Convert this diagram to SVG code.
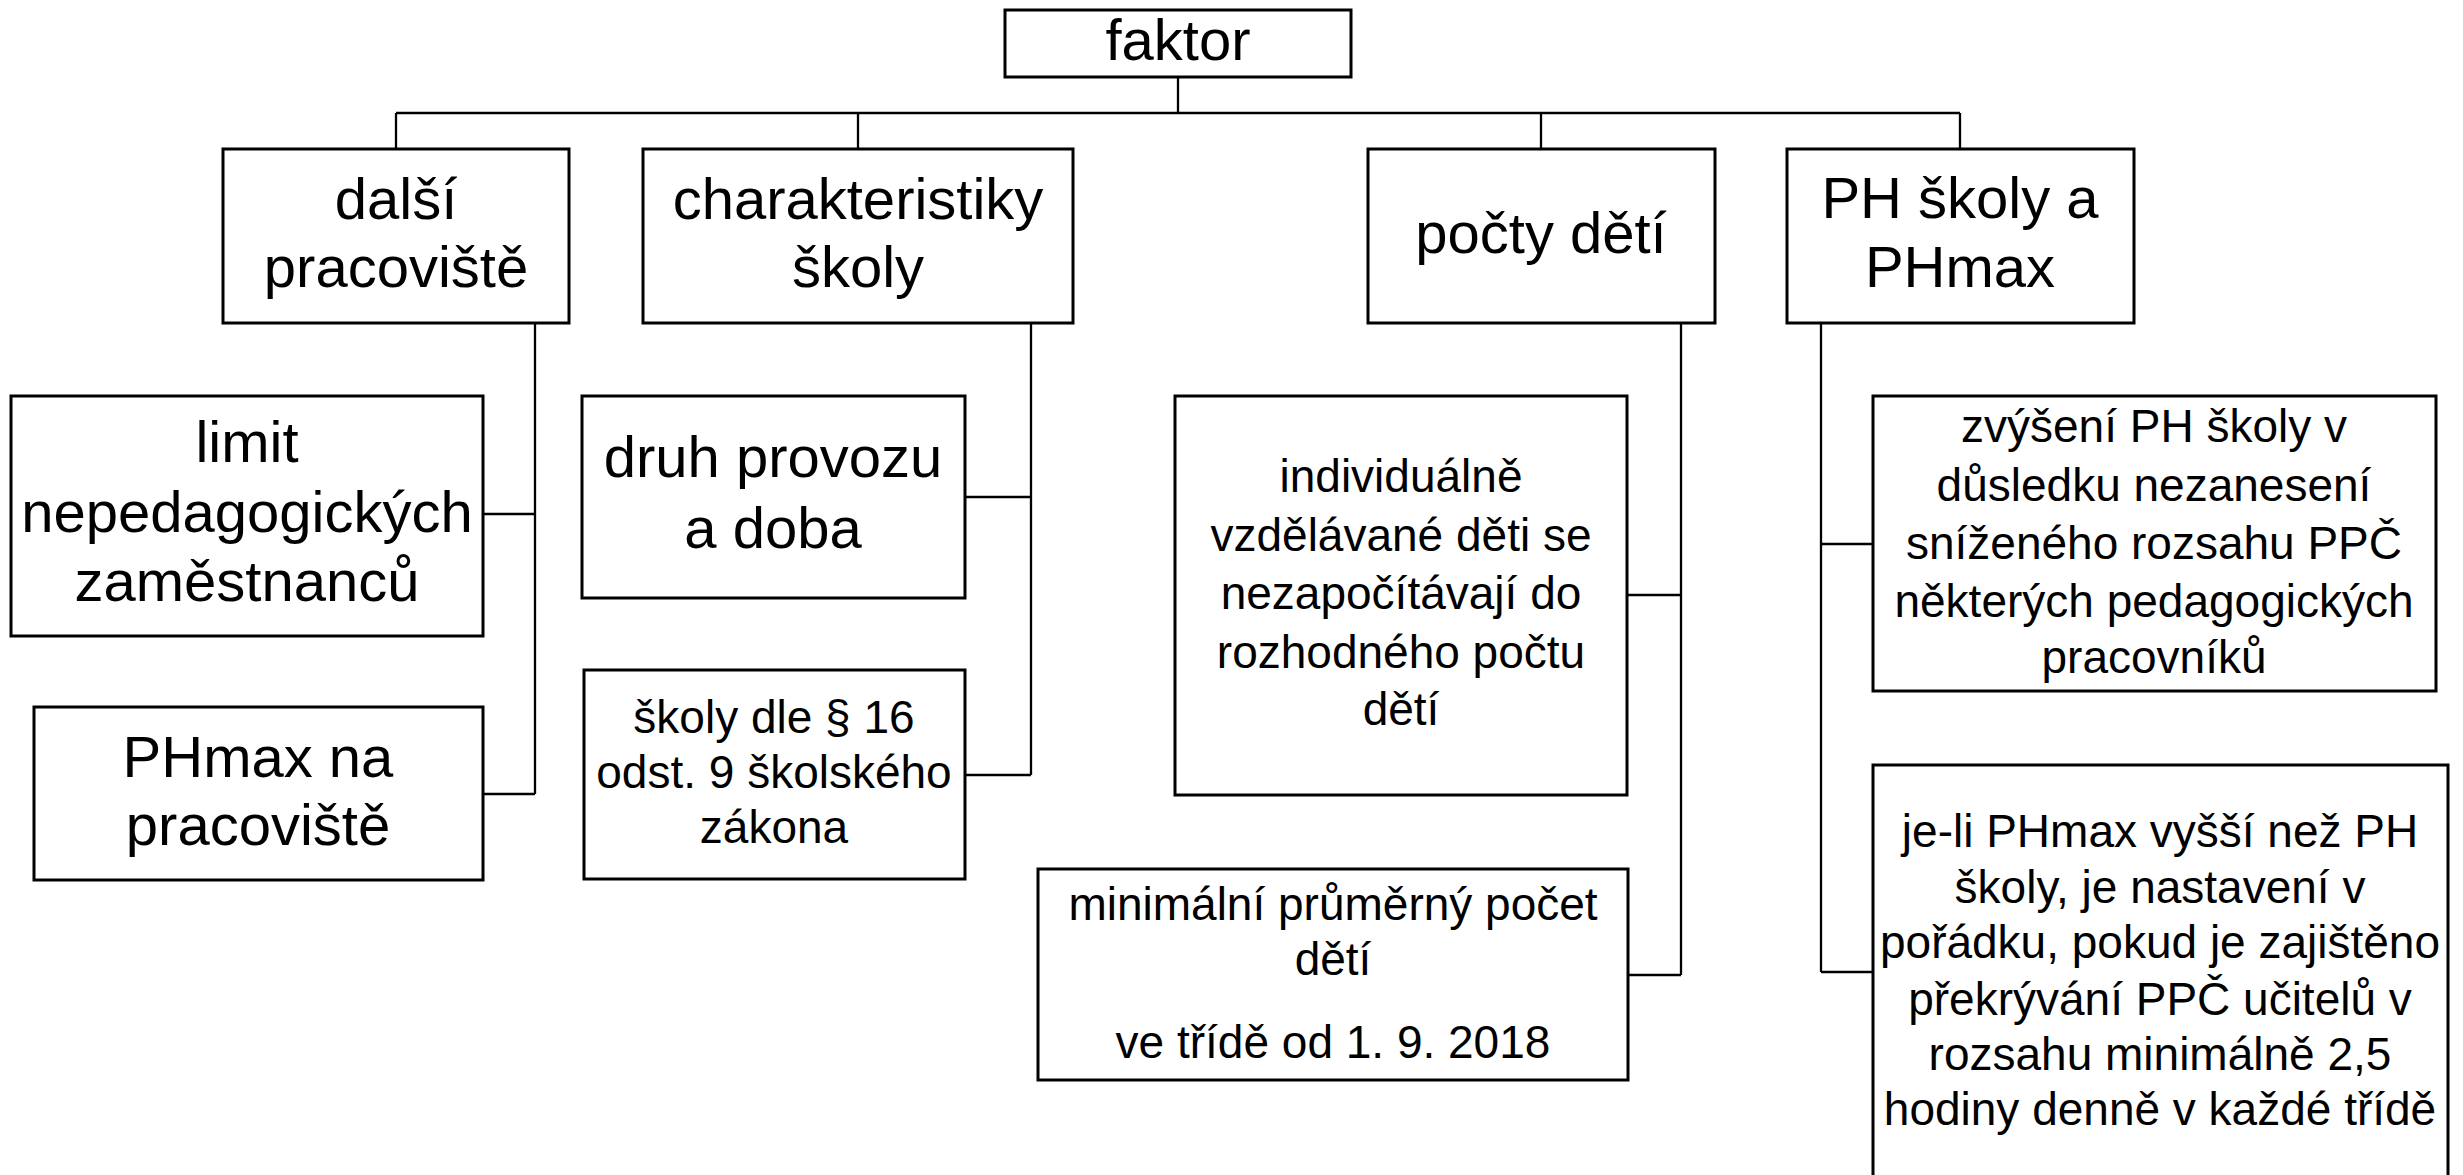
<svg xmlns="http://www.w3.org/2000/svg" width="2463" height="1175" viewBox="0 0 2463 1175">
<style>
rect.box{fill:#fff;stroke:#000;stroke-width:3}
.con path{fill:none;stroke:#000;stroke-width:2.3}
text{font-family:"Liberation Sans",Arial,sans-serif;fill:#000;text-anchor:middle}
.L{font-size:58px}
.S{font-size:46px}
</style>
<rect width="2463" height="1175" fill="#fff"/>
<g id="connectors" class="con">
<path d="M1178 77V113M396 113H1960M396 113V149M858 113V149M1541 113V149M1960 113V149"/>
<path d="M535 323V794M483 514H535M483 794H535"/>
<path d="M1031 323V775M965 497H1031M965 775H1031"/>
<path d="M1681 323V975M1627 595H1681M1628 975H1681"/>
<path d="M1821 323V972M1821 544H1873M1821 972H1873"/>
</g>
<g id="faktor"><rect class="box" x="1005" y="10" width="346" height="67"/><text class="L" x="1178" y="60">faktor</text></g>
<g id="dalsi"><rect class="box" x="223" y="149" width="346" height="174"/><text class="L" x="396" y="219">další</text><text class="L" x="396" y="287">pracoviště</text></g>
<g id="charakteristiky"><rect class="box" x="643" y="149" width="430" height="174"/><text class="L" x="858" y="219">charakteristiky</text><text class="L" x="858" y="287">školy</text></g>
<g id="pocty"><rect class="box" x="1368" y="149" width="347" height="174"/><text class="L" x="1541" y="253">počty dětí</text></g>
<g id="ph"><rect class="box" x="1787" y="149" width="347" height="174"/><text class="L" x="1960" y="218">PH školy a</text><text class="L" x="1960" y="287">PHmax</text></g>
<g id="limit"><rect class="box" x="11" y="396" width="472" height="240"/><text class="L" x="247" y="462">limit</text><text class="L" x="247" y="532">nepedagogických</text><text class="L" x="247" y="601">zaměstnanců</text></g>
<g id="phmax-na"><rect class="box" x="34" y="707" width="449" height="173"/><text class="L" x="258" y="777">PHmax na</text><text class="L" x="258" y="845">pracoviště</text></g>
<g id="druh"><rect class="box" x="582" y="396" width="383" height="202"/><text class="L" x="773" y="477">druh provozu</text><text class="L" x="773" y="548">a doba</text></g>
<g id="skoly-dle"><rect class="box" x="584" y="670" width="381" height="209"/><text class="S" x="774" y="733">školy dle § 16</text><text class="S" x="774" y="788">odst. 9 školského</text><text class="S" x="774" y="843">zákona</text></g>
<g id="individualne"><rect class="box" x="1175" y="396" width="452" height="399"/><text class="S" x="1401" y="492">individuálně</text><text class="S" x="1401" y="551">vzdělávané děti se</text><text class="S" x="1401" y="609">nezapočítávají do</text><text class="S" x="1401" y="668">rozhodného počtu</text><text class="S" x="1401" y="725">dětí</text></g>
<g id="minimalni"><rect class="box" x="1038" y="869" width="590" height="211"/><text class="S" x="1333" y="920">minimální průměrný počet</text><text class="S" x="1333" y="975">dětí</text><text class="S" x="1333" y="1058">ve třídě od 1. 9. 2018</text></g>
<g id="zvyseni"><rect class="box" x="1873" y="396" width="563" height="295"/><text class="S" x="2154" y="442">zvýšení PH školy v</text><text class="S" x="2154" y="501">důsledku nezanesení</text><text class="S" x="2154" y="559">sníženého rozsahu PPČ</text><text class="S" x="2154" y="617">některých pedagogických</text><text class="S" x="2154" y="673">pracovníků</text></g>
<g id="je-li"><rect class="box" x="1873" y="765" width="575" height="430"/><text class="S" x="2160" y="847">je-li PHmax vyšší než PH</text><text class="S" x="2160" y="903">školy, je nastavení v</text><text class="S" x="2160" y="958">pořádku, pokud je zajištěno</text><text class="S" x="2160" y="1015">překrývání PPČ učitelů v</text><text class="S" x="2160" y="1070">rozsahu minimálně 2,5</text><text class="S" x="2160" y="1125">hodiny denně v každé třídě</text></g>
</svg>
